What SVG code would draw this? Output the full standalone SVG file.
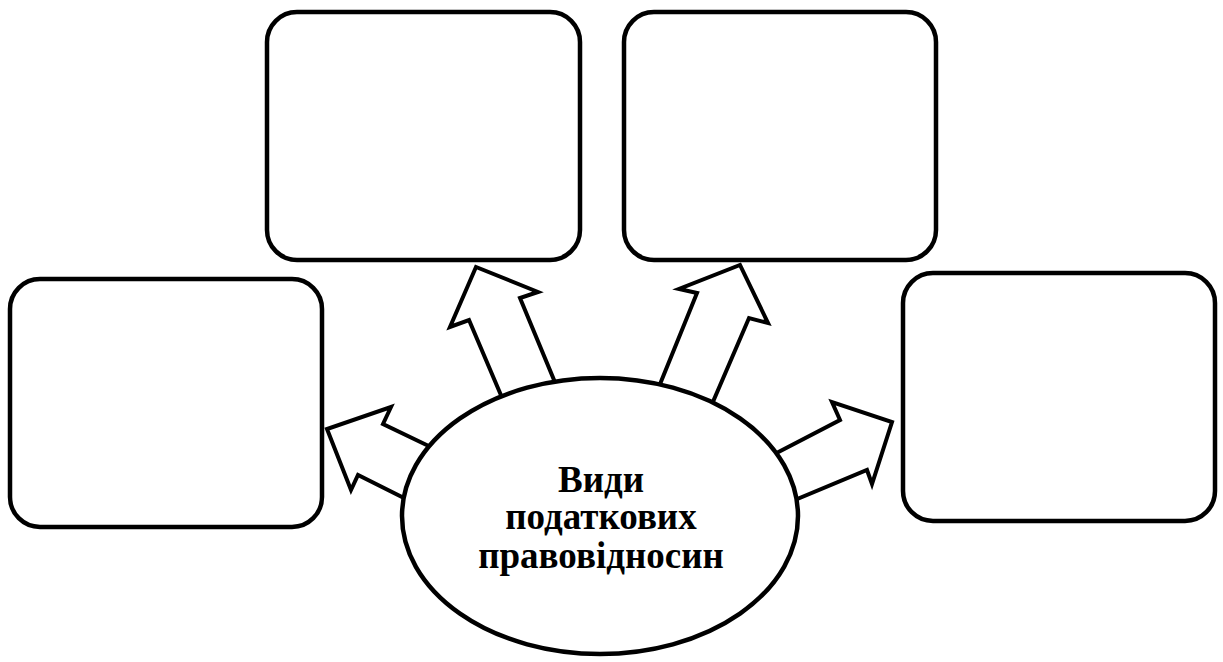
<svg xmlns="http://www.w3.org/2000/svg" width="1223" height="662" viewBox="0 0 1223 662">
<style>
.box{fill:#fff;stroke:#000;stroke-width:4.5}
.arr{fill:#fff;stroke:#000;stroke-width:4;stroke-linejoin:miter}
.lbl{font-family:"Liberation Serif","Times New Roman",serif;font-weight:bold;font-size:37px;text-anchor:middle;fill:#000}
</style>
<rect width="1223" height="662" fill="#fff"/>
<g id="box-top-left"><rect class="box" x="267" y="12" width="313" height="248" rx="30"/></g>
<g id="box-top-right"><rect class="box" x="624" y="12" width="312" height="248" rx="30"/></g>
<g id="box-left"><rect class="box" x="10" y="279" width="312" height="248" rx="30"/></g>
<g id="box-right"><rect class="box" x="903" y="273" width="312" height="248" rx="30"/></g>
<g id="connectors">
<polygon class="arr" points="437,450 383,424 391,407 327,429 351,490 358,475 414,503"/>
<polygon class="arr" points="506,407 469,320 450,327 476,267 538,292 520,298 559,392"/>
<polygon class="arr" points="656,394 697,293 679,289 740,265 768,323 749,318 709,411"/>
<polygon class="arr" points="765,459 840,420 832,402 892,422 872,484 867,470 790,502"/>
</g>
<g id="center">
<ellipse cx="600" cy="516" rx="198" ry="138" fill="#fff" stroke="#000" stroke-width="4.5"/>
<text class="lbl" x="601" y="492">Види</text>
<text class="lbl" x="601" y="529">податкових</text>
<text class="lbl" x="601" y="568">правовідносин</text>
</g>
</svg>
